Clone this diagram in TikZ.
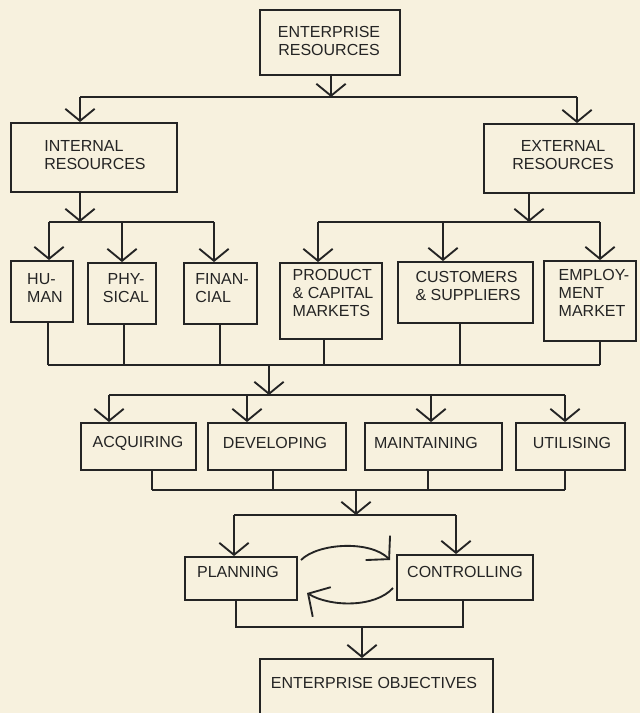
\documentclass[tikz,border=0pt]{standalone}
\usepackage{fontspec}
\setmainfont{Liberation Sans}
\usetikzlibrary{arrows.meta}
\definecolor{paper}{RGB}{247,241,222}
\definecolor{ink}{RGB}{36,36,36}
\begin{document}
\begin{tikzpicture}[x=0.75pt,y=-0.75pt,
  box/.style 2 args={draw=ink, line width=1.4pt, minimum width=#1*0.75pt,
    minimum height=#2*0.75pt, inner sep=0pt},
  txt/.style={text=ink, font=\fontsize{12}{13.2}\selectfont, align=left, inner sep=0pt},
  wire/.style={draw=ink, line width=1.4pt},
  arr/.style={wire, -{Straight Barb[length=9pt,width=22pt]}},
  bigarr/.style={wire, -{Straight Barb[length=12pt,width=26pt]}}]

\fill[paper] (0,0) rectangle (640,713);
\useasboundingbox (0,0) rectangle (640,713);
\begin{scope}
\clip (0,0) rectangle (640,713);

% ---- boxes ----
\node[box={140}{65}] (er) at (330,42.5) {};
\node[txt, align=center] (er-t) at (329,41) {ENTERPRISE\\RESOURCES};

\node[box={166}{69}] (int) at (94,157.5) {};
\node[txt] (int-t) at (95,155) {INTERNAL\\RESOURCES};
\node[box={150}{69}] (ext) at (559,158.5) {};
\node[txt, align=center] (ext-t) at (563,155) {EXTERNAL\\RESOURCES};

\node[box={62}{61}] (hum) at (42,291.5) {};
\node[txt] (hum-t) at (45,288) {HU-\\MAN};
\node[box={68}{61}] (phy) at (122,293.5) {};
\node[txt, align=center] (phy-t) at (126,288) {PHY-\\SICAL};
\node[box={73}{61}] (fin) at (220.5,293.5) {};
\node[txt] (fin-t) at (222,288) {FINAN-\\CIAL};
\node[box={102}{76}] (prod) at (331,301) {};
\node[txt] (prod-t) at (333,293) {PRODUCT\\\& CAPITAL\\MARKETS};
\node[box={135}{61}] (cust) at (465.5,292.5) {};
\node[txt] (cust-t) at (468,286) {CUSTOMERS\\\& SUPPLIERS};
\node[box={92}{80}] (emp) at (590,301) {};
\node[txt] (emp-t) at (594,293) {EMPLOY-\\MENT\\MARKET};

\node[box={115}{47}] (acq) at (138.5,446.5) {};
\node[txt] (acq-t) at (138,443) {ACQUIRING};
\node[box={138}{47}] (dev) at (277,446.5) {};
\node[txt] (dev-t) at (275,443) {DEVELOPING};
\node[box={137}{47}] (mai) at (433.5,446.5) {};
\node[txt] (mai-t) at (426,443) {MAINTAINING};
\node[box={109}{47}] (uti) at (570.5,446.5) {};
\node[txt] (uti-t) at (572,443) {UTILISING};

\node[box={112}{43}] (plan) at (241,578.5) {};
\node[txt] (plan-t) at (238,572) {PLANNING};
\node[box={136}{45}] (ctrl) at (465,577.5) {};
\node[txt] (ctrl-t) at (465,572) {CONTROLLING};

\node[box={233}{57}] (obj) at (376.5,687.5) {};
\node[txt] (obj-t) at (374,683) {ENTERPRISE OBJECTIVES};

% ---- junction points of the bus lines ----
\coordinate (j1) at (331,97);  \coordinate (j1a) at (80,97);  \coordinate (j1b) at (577,97);
\coordinate (j2) at (80,222);  \coordinate (j2a) at (49,222); \coordinate (j2b) at (122,222); \coordinate (j2c) at (214,222);
\coordinate (j3) at (529,222); \coordinate (j3a) at (318,222); \coordinate (j3b) at (443,222); \coordinate (j3c) at (600,222);
\coordinate (j4) at (269,365); \coordinate (j4a) at (48,365); \coordinate (j4b) at (600,365);
\coordinate (j5) at (269,395); \coordinate (j5a) at (109,395); \coordinate (j5b) at (247,395);
\coordinate (j5c) at (431,395); \coordinate (j5d) at (565,395);
\coordinate (j6) at (356,490); \coordinate (j6a) at (152,490); \coordinate (j6b) at (565,490);
\coordinate (j7) at (356,515); \coordinate (j7a) at (234,515); \coordinate (j7b) at (456,515);
\coordinate (j8) at (362,627); \coordinate (j8a) at (236,627); \coordinate (j8b) at (463,627);

% enterprise resources -> internal / external
\draw[arr] (er.south -| j1) -- (j1);
\draw[wire] (j1a) -- (j1b);
\draw[arr] (j1a) -- (j1a |- int.north);
\draw[arr] (j1b) -- (j1b |- ext.north);

% internal resources -> human, physical, financial
\draw[arr] (int.south -| j2) -- (j2);
\draw[wire] (j2a) -- (j2c);
\draw[arr] (j2a) -- (j2a |- hum.north);
\draw[arr] (j2b) -- (j2b |- phy.north);
\draw[arr] (j2c) -- (j2c |- fin.north);

% external resources -> markets
\draw[arr] (ext.south -| j3) -- (j3);
\draw[wire] (j3a) -- (j3c);
\draw[arr] (j3a) -- (j3a |- prod.north);
\draw[arr] (j3b) -- (j3b |- cust.north);
\draw[arr] (j3c) -- (j3c |- emp.north);

% all resources -> collecting line
\draw[wire] (j4a) -- (j4b);
\draw[wire] (hum.south -| 48,0) -- (48,365);
\draw[wire] (phy.south -| 124,0) -- (124,365);
\draw[wire] (fin.south -| 220,0) -- (220,365);
\draw[wire] (prod.south -| 324,0) -- (324,365);
\draw[wire] (cust.south -| 460,0) -- (460,365);
\draw[wire] (emp.south -| j4b) -- (j4b);

% -> acquiring, developing, maintaining, utilising
\draw[arr] (j4) -- (j5);
\draw[wire] (j5a) -- (j5d);
\draw[arr] (j5a) -- (j5a |- acq.north);
\draw[arr] (j5b) -- (j5b |- dev.north);
\draw[arr] (j5c) -- (j5c |- mai.north);
\draw[arr] (j5d) -- (j5d |- uti.north);

% functions -> planning / controlling
\draw[wire] (j6a) -- (j6b);
\draw[wire] (acq.south -| j6a) -- (j6a);
\draw[wire] (dev.south -| 273,0) -- (273,490);
\draw[wire] (mai.south -| 428,0) -- (428,490);
\draw[wire] (uti.south -| j6b) -- (j6b);
\draw[arr] (j6) -- (j7);
\draw[wire] (j7a) -- (j7b);
\draw[arr] (j7a) -- (j7a |- plan.north);
\draw[arr] (j7b) -- (j7b |- ctrl.north);

% planning <-> controlling loop
\coordinate (la) at (301,560); \coordinate (lb) at (390,560);
\coordinate (lc) at (393,588); \coordinate (ld) at (307,593);
\draw[bigarr] (la) .. controls (318,543) and (370,540) .. (lb);
\draw[bigarr] (lc) .. controls (375,608) and (330,607) .. (ld);

% planning / controlling -> enterprise objectives
\draw[wire] (plan.south -| j8a) -- (j8a) -- (j8b) -- (ctrl.south -| j8b);
\draw[arr] (j8) -- (j8 |- obj.north);
\end{scope}
\end{tikzpicture}
\end{document}
